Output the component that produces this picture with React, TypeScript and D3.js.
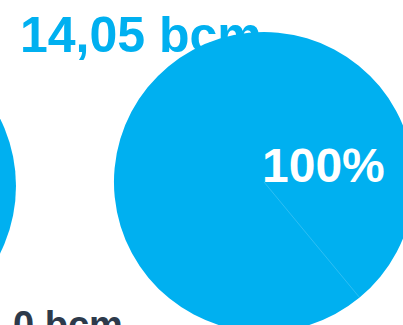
import React from "react";
import * as d3 from "d3";

// Data
const volumeLabels = ["14,05 bcm", "0 bcm"];
const leftPieShares = [100];
const rightPieShares = [100];
const rightShareLabels = ["100%"];

const W = 403;
const H = 325;
const BLUE = "#00b0f0";
const DARK = "#2d3a4b";
const FONT = "'Liberation Sans', Arial, Helvetica, sans-serif";

export default function App() {
  const r = 150;
  const right = { cx: 264, cy: 182 };
  const left = { cx: -134, cy: 186 };
  const startA = (140.4 * Math.PI) / 180;

  const pieR = d3
    .pie<number>()
    .sort(null)
    .value((d) => d)
    .startAngle(startA)
    .endAngle(startA + 2 * Math.PI)(rightPieShares);
  const pieL = d3
    .pie<number>()
    .sort(null)
    .value((d) => d)(leftPieShares);
  const arc = d3.arc<d3.PieArcDatum<number>>().innerRadius(0).outerRadius(r);

  return (
    <svg
      width={W}
      height={H}
      style={{ position: "absolute", left: 0, top: 0, background: "#fff" }}
    >
      <text
        x={20}
        y={52}
        fontFamily={FONT}
        fontWeight="bold"
        fontSize={50}
        fill={BLUE}
      >
        {volumeLabels[0]}
      </text>
      <text
        x={13}
        y={338}
        fontFamily={FONT}
        fontWeight="bold"
        fontSize={38}
        fill={DARK}
      >
        {volumeLabels[1]}
      </text>
      <g transform={`translate(${left.cx},${left.cy})`}>
        {pieL.map((d, i) => (
          <path key={i} d={arc(d) || ""} fill={BLUE} />
        ))}
      </g>
      <g transform={`translate(${right.cx},${right.cy})`}>
        {pieR.map((d, i) => (
          <path key={i} d={arc(d) || ""} fill={BLUE} />
        ))}
        {pieR.map((d, i) => (
          <line
            key={"l" + i}
            x1={0}
            y1={0}
            x2={r * Math.sin(d.startAngle)}
            y2={-r * Math.cos(d.startAngle)}
            stroke="#ffffff"
            strokeOpacity={0.3}
            strokeWidth={0.6}
          />
        ))}
        {pieR.map((d, i) => (
          <text
            key={"t" + i}
            x={-2}
            y={0}
            fontFamily={FONT}
            fontWeight="bold"
            fontSize={48}
            fill="#ffffff"
          >
            {rightShareLabels[i]}
          </text>
        ))}
      </g>
    </svg>
  );
}
